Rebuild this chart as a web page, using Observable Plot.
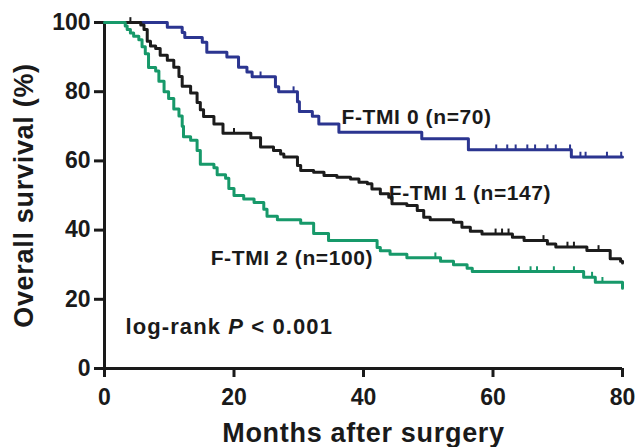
<!DOCTYPE html>
<html><head><meta charset="utf-8">
<script src="https://cdn.jsdelivr.net/npm/d3@7"></script>
<script src="https://cdn.jsdelivr.net/npm/@observablehq/plot@0.6"></script>
<style>
html,body{margin:0;padding:0;background:#fff;}
#chart svg{display:block;font-family:"Liberation Sans",Arial,Helvetica,sans-serif;}
</style></head><body><div id="chart"></div>
<script>
const xTicks = [0, 20, 40, 60, 80];
const yTicks = [0, 20, 40, 60, 80, 100];
const groups = ["F-TMI 0", "F-TMI 1", "F-TMI 2"];
const colors = ["#2b3590", "#1c1c1c", "#17996a"];

// F-TMI 0 (n=70)
const time0 = [0, 9.7, 12.0, 12.4, 15.1, 15.8, 18.9, 20.7, 22.0, 22.8, 26.4, 26.9, 29.8, 30.1, 32.1, 33.1, 36.2, 49.0, 56.2, 72.1, 80];
const surv0 = [100, 98.6, 97.1, 95.7, 94.3, 91.4, 90.0, 87.1, 85.7, 84.3, 81.4, 80.0, 77.1, 74.3, 72.9, 70.7, 68.3, 66.4, 63.2, 61.1, 61.1];
const censor0 = [24.1, 29.2, 60.5, 62.2, 63.5, 65.3, 66.5, 68.4, 69.7, 71.9, 73.5, 74.3, 77.6, 79.8];

// F-TMI 1 (n=147)
const time1 = [0, 5.6, 6.1, 6.6, 7.1, 7.9, 8.6, 9.7, 10.7, 11.5, 12.0, 13.3, 14.3, 14.8, 15.3, 16.9, 18.3, 22.6, 24.1, 26.1, 27.2, 27.7, 29.8, 30.3, 32.3, 33.9, 35.9, 38.0, 39.3, 40.6, 41.3, 42.6, 43.9, 44.4, 46.7, 48.3, 49.3, 50.3, 53.9, 55.2, 56.5, 58.3, 63.0, 64.8, 68.4, 69.7, 74.5, 78.1, 79.7, 80];
const surv1 = [100, 99.3, 98.0, 94.6, 93.2, 92.5, 90.5, 89.1, 87.1, 84.4, 81.6, 79.6, 76.9, 74.8, 72.8, 70.7, 68.0, 66.7, 64.0, 63.0, 62.0, 61.1, 58.7, 57.2, 56.7, 55.8, 55.3, 54.8, 53.8, 53.4, 51.9, 50.5, 49.5, 47.6, 47.1, 45.7, 43.7, 43.0, 42.3, 40.8, 39.7, 38.9, 37.9, 37.0, 36.0, 35.1, 34.1, 31.7, 31.0, 30.5];
const censor1 = [4.0, 20.0, 60.4, 61.4, 62.4, 67.8, 71.5, 72.5, 76.3];

// F-TMI 2 (n=100)
const time2 = [0, 3.2, 3.5, 4.0, 4.5, 5.3, 5.8, 6.3, 6.8, 7.9, 8.4, 9.2, 9.9, 10.7, 11.5, 12.0, 12.2, 13.3, 14.3, 14.8, 16.9, 17.4, 18.7, 19.2, 20.0, 21.5, 23.1, 24.6, 25.1, 26.7, 30.3, 32.3, 34.6, 42.1, 42.6, 44.1, 46.7, 51.9, 53.9, 56.0, 56.8, 74.0, 75.8, 80];
const surv2 = [100, 99, 98, 97, 96, 95, 93, 91, 87, 86, 83, 80, 78, 75, 73, 70, 67, 66, 63, 59, 58, 56, 55, 52, 50, 49, 48, 46, 44, 43, 42, 39, 37, 35, 34, 33, 32, 31, 30, 29, 28, 26.4, 24.9, 23.2];
const censor2 = [51.1, 64.0, 65.8, 66.8, 69.4, 72.5, 75.3, 76.9];

const labels = ["F-TMI 0 (n=70)", "F-TMI 1 (n=147)", "F-TMI 2 (n=100)"];
const labelX = [36.6, 43.9, 16.4];
const labelY = [72.6, 50.6, 31.9];
const pText = "log-rank P < 0.001";
const xTitle = "Months after surgery";
const yTitle = "Overall survival (%)";

const times = [time0, time1, time2];
const survs = [surv0, surv1, surv2];
const censors = [censor0, censor1, censor2];

const curves = groups.map((g, i) => times[i].map((t, j) => ({group: g, t, s: survs[i][j]})));
function survAt(i, t) {
  let s = survs[i][0];
  for (let j = 0; j < times[i].length; j++) if (times[i][j] <= t) s = survs[i][j];
  return s;
}
const ticks = groups.map((g, i) => censors[i].map(t => ({group: g, t, s: survAt(i, t)})));

const ink = "#1a1a1a";
const marks = [
  Plot.ruleX([0], {stroke: ink, strokeWidth: 3}),
  Plot.ruleY([0], {stroke: ink, strokeWidth: 3}),
  Plot.axisX({ticks: xTicks, tickSize: 9, tickPadding: 11, fontSize: 23, fontWeight: "bold", strokeWidth: 3, stroke: ink, fill: ink, label: null}),
  Plot.axisY({ticks: yTicks, tickSize: 10, tickPadding: 4, fontSize: 23, fontWeight: "bold", strokeWidth: 3, stroke: ink, fill: ink, label: null}),
];
[0, 1, 2].forEach(i => {
  marks.push(Plot.line(curves[i], {x: "t", y: "s", curve: "step-after", stroke: colors[i], strokeWidth: 3}));
  marks.push(Plot.ruleX(ticks[i], {x: "t", y1: "s", y2: d => d.s + 1.4, stroke: colors[i], strokeWidth: 2}));
});
marks.push(
  Plot.text(labels.map((l, i) => ({l, x: labelX[i], y: labelY[i]})), {x: "x", y: "y", text: "l", textAnchor: "start", fontSize: 21, fontWeight: "bold", fill: ink}),
  Plot.text([pText], {x: 3.24, y: 12.1, text: d => d, textAnchor: "start", fontSize: 22, fontWeight: "bold", fill: ink}),
  Plot.text([xTitle], {frameAnchor: "bottom", dy: 73, lineAnchor: "bottom", fontSize: 27, fontWeight: "bold", fill: ink}),
  Plot.text([yTitle], {frameAnchor: "left", dx: -80, textAnchor: "middle", rotate: -90, fontSize: 27, fontWeight: "bold", fill: ink})
);

const chart = Plot.plot({
  width: 637, height: 447,
  marginLeft: 104, marginRight: 15, marginTop: 22, marginBottom: 79,
  x: {domain: [0, 80]},
  y: {domain: [0, 100]},
  style: {background: "#fff", color: ink, overflow: "visible"},
  marks
});
document.getElementById("chart").appendChild(chart);

const spacing = new Map([[labels[0], 0.6], [labels[1], 0.6], [labels[2], 0.6], [pText, 1.1], [xTitle, 0.7], [yTitle, 0.7]]);
chart.querySelectorAll("text").forEach(el => {
  const tc = el.textContent;
  if (spacing.has(tc)) el.setAttribute("letter-spacing", spacing.get(tc));
  if (tc === pText) {
    el.textContent = "";
    const parts = [["log-rank ", null], ["P", "italic"], [" < 0.001", null]];
    parts.forEach(([txt, st]) => {
      const ts = document.createElementNS("http://www.w3.org/2000/svg", "tspan");
      ts.textContent = txt;
      if (st) ts.setAttribute("font-style", st);
      el.appendChild(ts);
    });
  }
});
</script></body></html>
